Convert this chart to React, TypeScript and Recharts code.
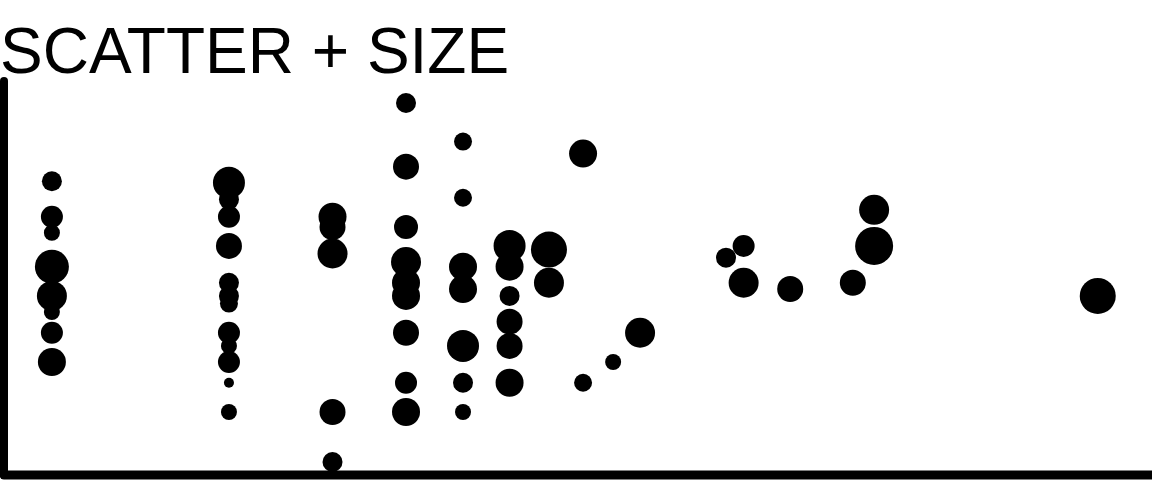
import React from 'react';
import { ScatterChart, Scatter, XAxis, YAxis, ZAxis } from 'recharts';

// x and y are both on log scales; z is the bubble size (area ∝ z)
const X_VALUES = [
  1, 1, 1, 1, 1, 1, 1, 1,
  2, 2, 2, 2, 2, 2, 2, 2, 2, 2, 2, 2,
  3, 3, 3, 3, 3,
  4, 4, 4, 4, 4, 4, 4, 4, 4,
  5, 5, 5, 5, 5, 5, 5,
  6, 6, 6, 6, 6, 6,
  7, 7,
  8, 8,
  9,
  10,
  14,
  15, 15,
  18,
  23,
  25, 25,
  60,
];

const Y_VALUES = [
  49, 30, 24, 15, 10, 8, 6, 4,
  48, 38, 30, 20, 12, 10, 9, 6, 5, 4, 3, 2,
  30, 26, 18, 2, 1,
  145, 60, 26, 16, 12, 10, 6, 3, 2,
  85, 39, 15, 11, 5, 3, 2,
  20, 15, 10, 7, 5, 3,
  19, 12,
  72, 3,
  4,
  6,
  17,
  20, 12,
  11,
  12,
  33, 20,
  10,
];

const SIZES = [
  100, 121, 64, 289, 225, 64, 121, 196,
  256, 100, 121, 169, 100, 100, 81, 121, 64, 121, 25, 64,
  196, 169, 225, 169, 100,
  100, 169, 144, 225, 196, 196, 169, 121, 196,
  81, 81, 196, 196, 256, 100, 64,
  256, 196, 100, 169, 169, 196,
  324, 225,
  196, 81,
  64,
  225,
  100,
  121, 225,
  169,
  169,
  225, 361,
  324,
];

const POINTS = X_VALUES.map((x, i) => ({ x, y: Y_VALUES[i], z: SIZES[i] }));

const App: React.FC = () => {
  return (
    <div style={{ position: 'fixed', left: 0, top: 0, width: 1152, height: 480, background: '#fff' }}>
      <div
        style={{
          position: 'absolute',
          left: 0,
          top: 19,
          fontFamily: '"Liberation Sans", Arial, Helvetica, sans-serif',
          fontSize: 64,
          lineHeight: '64px',
          color: '#000',
          whiteSpace: 'nowrap',
        }}
      >
        SCATTER + SIZE
      </div>
      <ScatterChart width={1152} height={480} margin={{ top: 81, right: 0, bottom: 4, left: 3 }}>
        <XAxis
          type="number"
          dataKey="x"
          scale="log"
          domain={[0.829, 74.2]}
          allowDataOverflow
          tick={false}
          tickLine={false}
          height={1}
          axisLine={{ stroke: '#000', strokeWidth: 9, strokeLinecap: 'round' }}
        />
        <YAxis
          type="number"
          dataKey="y"
          scale="log"
          domain={[0.835, 196.8]}
          allowDataOverflow
          tick={false}
          tickLine={false}
          width={1}
          axisLine={{ stroke: '#000', strokeWidth: 8, strokeLinecap: 'round' }}
        />
        <ZAxis type="number" dataKey="z" domain={[0, 400]} range={[0, 400 * Math.PI]} />
        <Scatter data={POINTS} fill="#000" shape="circle" isAnimationActive={false} />
      </ScatterChart>
    </div>
  );
};

export default App;
